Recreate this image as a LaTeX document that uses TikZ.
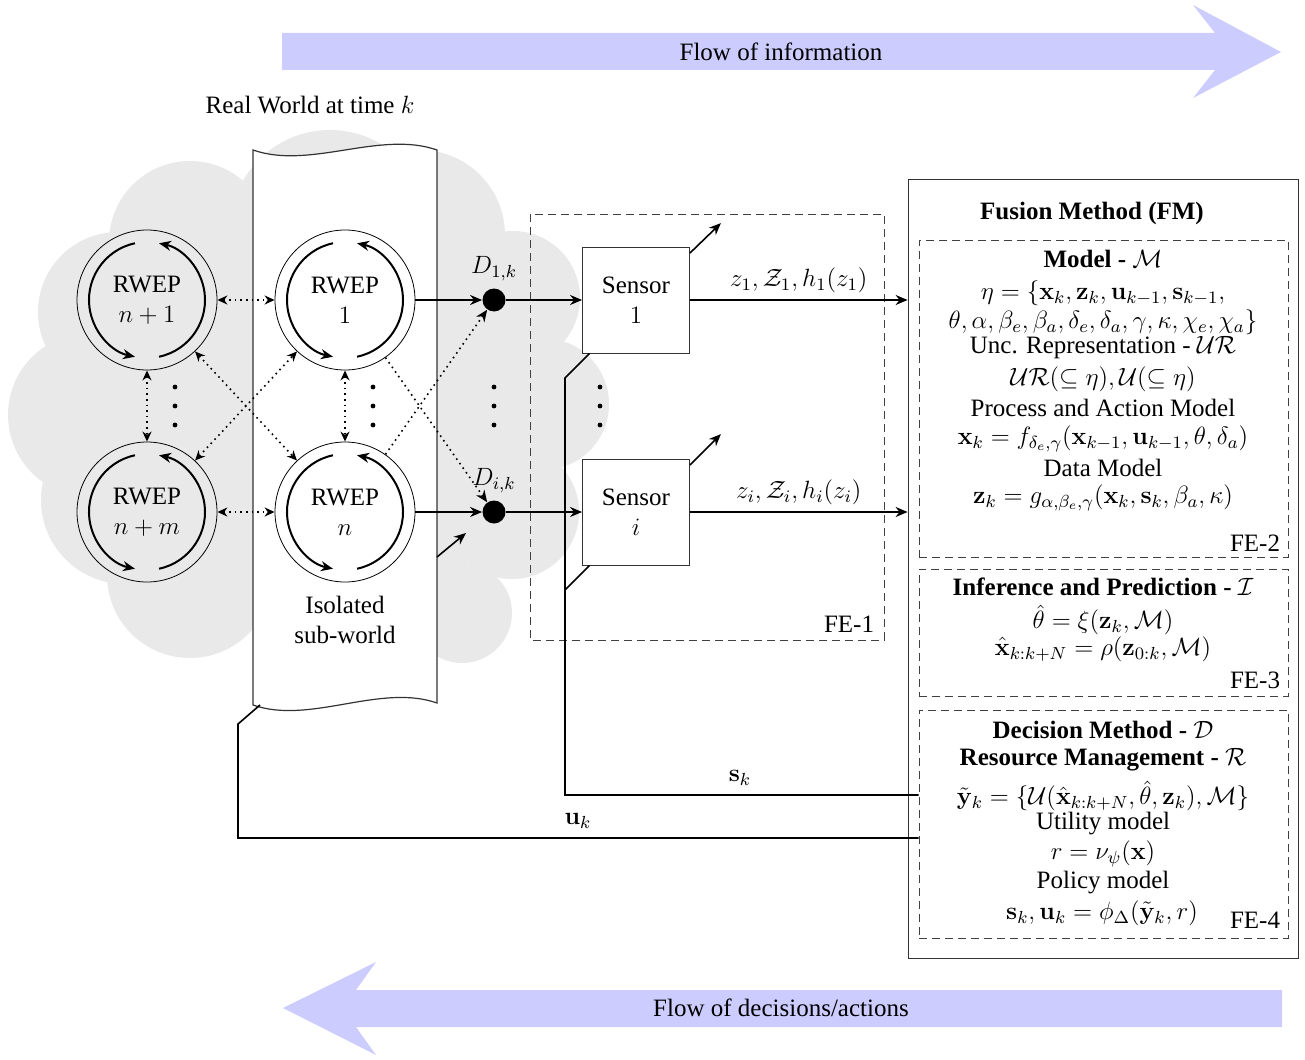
\RequirePackage{fix-cm}
\documentclass[tikz,border=0pt]{standalone}
\usepackage{amsmath}
\usepackage[no-math]{fontspec}
\setmainfont{Liberation Serif}
\usetikzlibrary{arrows.meta}
\definecolor{flowblue}{RGB}{204,204,255}
\definecolor{cloudgray}{RGB}{233,233,233}

\begin{document}
\begin{tikzpicture}[x=0.5pt,y=-0.5pt,
	font=\fontsize{12.5}{15}\selectfont,
	>={Stealth[length=6pt,width=5pt]},
	rwep/.style={circle,draw,thin,minimum size=70pt,inner sep=0pt,align=center},
	sensor/.style={rectangle,draw=black!80,fill=white,minimum width=53.5pt,minimum height=53pt,align=center},
	dnode/.style={circle,fill=black,minimum size=11.5pt,inner sep=0pt},
	febox/.style={draw=black!75,dash pattern=on 4pt off 2.5pt},
	fmline/.style={inner sep=0.5pt},
	conn/.style={thick},
	link/.style={thick,dotted,>={Stealth[length=5pt,width=4.5pt]},<->}]
	\useasboundingbox (0,0) rectangle (1305,1059);

	% flows
	\fill[flowblue] (282,33) -- (1215,33) -- (1193,5) -- (1281,52) -- (1193,98) -- (1215,70) -- (282,70) -- cycle;
	\node (flowinfo) at (781,52) {Flow of information};
	\fill[flowblue] (1282,990) -- (356,990) -- (376,962) -- (283,1008) -- (376,1055) -- (356,1027) -- (1282,1027) -- cycle;
	\node (flowdec) at (781,1008) {Flow of decisions/actions};

	% real world cloud
	\begin{scope}[cloudgray]
		\fill (320,410) ellipse[x radius=230,y radius=200];
		\fill (190,242) circle[radius=81];
		\fill (118,312) circle[radius=80];
		\fill (90,415) circle[radius=82];
		\fill (125,500) circle[radius=84];
		\fill (190,575) circle[radius=83];
		\fill (462,613) circle[radius=50];
		\fill (512,512) circle[radius=67];
		\fill (543,404) circle[radius=66];
		\fill (513,298) circle[radius=67];
		\fill (330,230) circle[radius=100];
		\fill (420,235) circle[radius=85];
	\end{scope}
	\node (world) at (310,105) {Real World at time $k$};

	% isolated sub-world strip
	\draw[black!80,line width=0.6pt,fill=white] (253,150) .. controls (310,170) and (380,130) .. (437,150)
		-- (437,703) .. controls (380,683) and (310,725) .. (253,705) -- cycle;
	\node[align=center] (iso) at (345,620) {Isolated\\sub-world};

	% boxes
	\draw[febox] (530,214) rectangle (884,640);
	\node (fe1) at (849,624) {FE-1};
	\node[draw=black!80,minimum width=195pt,minimum height=389.5pt] (fm) at (1103,568.5) {};
	\node[febox,minimum width=184.5pt,minimum height=158.5pt] (fe2) at (1103.5,398.5) {};
	\node[febox,minimum width=184.5pt,minimum height=63.5pt] (fe3) at (1103.5,632.5) {};
	\node[febox,minimum width=184.5pt,minimum height=114pt] (fe4) at (1103.5,824) {};

	% RWEPs
	\node[rwep] (enp1) at (147,300) {RWEP\\$n+1$};
	\node[rwep] (e1) at (345,300) {RWEP\\$1$};
	\node[rwep] (enpm) at (147,512) {RWEP\\$n+m$};
	\node[rwep] (en) at (345,512) {RWEP\\$n$};
	\foreach \n in {enp1,e1,enpm,en}{
		\draw[->,line width=1pt] (\n.center) ++(102:29pt) arc[start angle=102,end angle=258,radius=29pt];
		\draw[->,line width=1pt] (\n.center) ++(282:29pt) arc[start angle=282,end angle=438,radius=29pt];
	}

	% data points and sensors
	\node[dnode,label={above:$D_{1,k}$}] (d1) at (494,300) {};
	\node[dnode,label={above:$D_{i,k}$}] (di) at (494,512) {};
	\node[sensor] (s1) at (636,300) {Sensor\\$1$};
	\node[sensor] (si) at (636,512) {Sensor\\$i$};

	\foreach \x in {175,373,494,600}
		\foreach \y in {387,406,425}
			\fill (\x,\y) circle[radius=1.2pt];

	% interactions
	\draw[link] (enp1) -- (e1);
	\draw[link] (enpm) -- (en);
	\draw[link] (enp1) -- (enpm);
	\draw[link] (e1) -- (en);
	\draw[link] (enp1) -- (en);
	\draw[link] (enpm) -- (e1);
	\draw[thick,dotted,->] (e1) -- (di);
	\draw[thick,dotted,->] (en) -- (d1);

	\draw[conn,->] (e1) -- (d1);
	\draw[conn,->] (d1) -- (s1);
	\draw[conn,->] (en) -- (di);
	\draw[conn,->] (di) -- (si);
	\coordinate (nz) at (437,557);
	\draw[conn,->] (nz) -- ++(29,-24);
	\draw[conn,->] ([yshift=-3.25pt]s1.north east) -- ++(31,-30);
	\draw[conn,->] ([yshift=-3.25pt]si.north east) -- ++(31,-31);

	\draw[conn,->] (s1) -- (s1 -| fm.west) node[midway,above] (zlab1) {$z_1, \mathcal{Z}_1, h_1(z_1)$};
	\draw[conn,->] (si) -- (si -| fm.west) node[midway,above] (zlabi) {$z_i, \mathcal{Z}_i, h_i(z_i)$};

	% feedback
	\coordinate (skc) at (565,795);
	\coordinate (skb) at (565,378);
	\coordinate (ska) at (565,590);
	\draw[conn] (fe4.west |- skc) -- (skc) -- (skb) -- ([xshift=3.75pt]s1.south west);
	\draw[conn] (ska) -- ([xshift=3.75pt]si.south west);
	\node (sk) at (740,778) {$\mathbf{s}_k$};
	\coordinate (ukc) at (238,838);
	\coordinate (ukb) at (238,724);
	\coordinate (uka) at (260,705);
	\draw[conn] (fe4.west |- ukc) -- (ukc) -- (ukb) -- (uka);
	\node (uk) at (578,821) {$\mathbf{u}_k$};

	% fusion method
	\begin{scope}[every node/.style={fmline}]
		\node (fmtitle) at (1092,213) {\textbf{Fusion Method (FM)}};
		\node (m1) at (1103,259) {\textbf{Model -} $\mathcal{M}$};
		\node (m2) at (1103,293) {$\eta = \{\mathbf{x}_k, \mathbf{z}_k, \mathbf{u}_{k-1}, \mathbf{s}_{k-1},$};
		\node (m3) at (1103,322) {$\theta, \alpha, \beta_e, \beta_a, \delta_e, \delta_a, \gamma, \kappa, \chi_e, \chi_a\}$};
		\node (m4) at (1103,348) {Unc. Representation - $\mathcal{UR}$};
		\node (m5) at (1103,379) {$\mathcal{UR}(\subseteq \eta), \mathcal{U}(\subseteq \eta)$};
		\node (m6) at (1103,408) {Process and Action Model};
		\node (m7) at (1103,439) {$\mathbf{x}_k = f_{\delta_e,\gamma}(\mathbf{x}_{k-1}, \mathbf{u}_{k-1}, \theta, \delta_a)$};
		\node (m8) at (1103,468) {Data Model};
		\node (m9) at (1103,498) {$\mathbf{z}_k = g_{\alpha,\beta_e,\gamma}(\mathbf{x}_k, \mathbf{s}_k, \beta_a, \kappa)$};
		\node (fe2lab) at (1255,543) {FE-2};

		\node (ip1) at (1103,587) {\textbf{Inference and Prediction -} $\mathcal{I}$};
		\node (ip2) at (1103,620) {$\hat{\theta} = \xi(\mathbf{z}_k, \mathcal{M})$};
		\node (ip3) at (1103,649) {$\hat{\mathbf{x}}_{k:k+N} = \rho(\mathbf{z}_{0:k}, \mathcal{M})$};
		\node (fe3lab) at (1255,680) {FE-3};

		\node (dm1) at (1103,730) {\textbf{Decision Method -} $\mathcal{D}$};
		\node (dm2) at (1103,760) {\textbf{Resource Management -} $\mathcal{R}$};
		\node (dm3) at (1103,796) {$\tilde{\mathbf{y}}_k = \{\mathcal{U}(\hat{\mathbf{x}}_{k:k+N}, \hat{\theta}, \mathbf{z}_k), \mathcal{M}\}$};
		\node (dm4) at (1103,824) {Utility model};
		\node (dm5) at (1103,854) {$r = \nu_\psi(\mathbf{x})$};
		\node (dm6) at (1103,883) {Policy model};
		\node (dm7) at (1102,913) {$\mathbf{s}_k, \mathbf{u}_k = \phi_\Delta(\tilde{\mathbf{y}}_k, r)$};
		\node (fe4lab) at (1255,920) {FE-4};
	\end{scope}
\end{tikzpicture}
\end{document}
